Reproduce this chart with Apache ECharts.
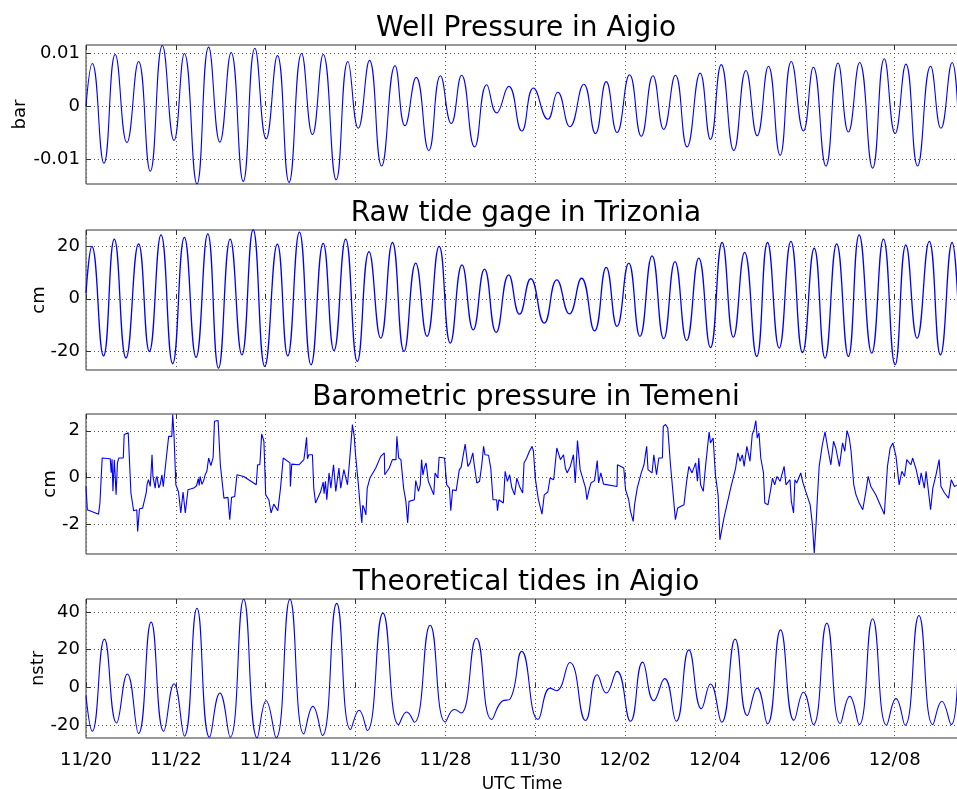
<!DOCTYPE html>
<html>
<head>
<meta charset="utf-8">
<title>Aigio / Trizonia / Temeni</title>
<script src="https://cdn.jsdelivr.net/npm/echarts@6/dist/echarts.min.js"></script>
<style>
  html, body { margin: 0; padding: 0; background: #fff; }
  #main { width: 957px; height: 789px; }
</style>
</head>
<body>
<div id="main"></div>
<script>
// time is in days since 11/20 00:00 UTC
const xTickDays = [0, 2, 4, 6, 8, 10, 12, 14, 16, 18]
const xTickLabels = ['11/20', '11/22', '11/24', '11/26', '11/28', '11/30', '12/02', '12/04', '12/06', '12/08']
const xEnd = 19.41

const titles = ['Well Pressure in Aigio', 'Raw tide gage in Trizonia', 'Barometric pressure in Temeni', 'Theoretical tides in Aigio']
const units = ['bar', 'cm', 'cm', 'nstr']

const wellTicks = [-0.01, 0, 0.01]
const gageTicks = [-20, 0, 20]
const baroTicks = [-2, 0, 2]
const theoTicks = [-20, 0, 20, 40]

// well pressure (bar), turning points
const wellPressure = [
  [0, 0], [0.14, 0.0080], [0.40, -0.0108], [0.65, 0.0097], [0.91, -0.0069], [1.17, 0.0084], [1.43, -0.0123], [1.70, 0.0114], [1.96, -0.0065], [2.19, 0.0099],
  [2.47, -0.0147], [2.73, 0.0111], [2.98, -0.0068], [3.23, 0.0101], [3.50, -0.0142], [3.76, 0.0109], [4.01, -0.0062], [4.26, 0.0095], [4.52, -0.0144], [4.80, 0.0099],
  [5.04, -0.0054], [5.28, 0.0097], [5.57, -0.0139], [5.83, 0.0084], [6.06, -0.0042], [6.31, 0.0086], [6.58, -0.0113], [6.88, 0.0076], [7.10, -0.0037], [7.35, 0.0054],
  [7.63, -0.0084], [7.89, 0.0057], [8.13, -0.0033], [8.36, 0.0058], [8.65, -0.0077], [8.92, 0.0040], [9.14, -0.0013], [9.41, 0.0037], [9.70, -0.0047], [9.96, 0.0034],
  [10.28, -0.0025], [10.50, 0.0026], [10.77, -0.0039], [11.08, 0.0041], [11.34, -0.0052], [11.58, 0.0046], [11.82, -0.0050], [12.10, 0.0059], [12.36, -0.0057], [12.62, 0.0057],
  [12.86, -0.0044], [13.12, 0.0058], [13.38, -0.0077], [13.67, 0.0062], [13.90, -0.0063], [14.14, 0.0078], [14.42, -0.0084], [14.69, 0.0067], [14.94, -0.0056], [15.19, 0.0075],
  [15.45, -0.0093], [15.70, 0.0084], [15.97, -0.0047], [16.19, 0.0073], [16.47, -0.0113], [16.74, 0.0081], [16.97, -0.0049], [17.22, 0.0082], [17.51, -0.0117], [17.77, 0.0089],
  [18.01, -0.0052], [18.25, 0.0079], [18.51, -0.0113], [18.80, 0.0075], [19.03, -0.0042], [19.28, 0.0082], [19.41, -0.0017]
]

// raw tide gage (cm)
const tideGage = [
  [0, 2.2], [0.13, 20.1], [0.39, -21.9], [0.63, 22.9], [0.89, -22.7], [1.17, 21.1], [1.41, -20.2], [1.67, 24.5], [1.93, -24.9], [2.19, 23.6],
  [2.45, -22.4], [2.71, 24.9], [2.95, -26.6], [3.21, 22.9], [3.47, -21.5], [3.72, 26.5], [3.98, -25.9], [4.26, 21.0], [4.49, -21.9], [4.75, 25.6],
  [5.01, -25.3], [5.28, 21.3], [5.52, -19.9], [5.78, 22.9], [6.04, -24.0], [6.30, 18.1], [6.56, -15.1], [6.82, 21.6], [7.08, -20.2], [7.34, 13.7],
  [7.59, -14.4], [7.86, 20.1], [8.11, -17.0], [8.37, 13.0], [8.62, -11.9], [8.87, 11.4], [9.13, -12.9], [9.41, 9.2], [9.65, -5.9], [9.90, 7.7],
  [10.20, -9.3], [10.48, 7.3], [10.76, -5.8], [11.03, 7.9], [11.32, -12.3], [11.58, 12.1], [11.82, -10.6], [12.08, 13.7], [12.33, -14.4], [12.60, 16.5],
  [12.86, -15.3], [13.11, 14.3], [13.37, -16.0], [13.64, 15.6], [13.90, -18.7], [14.16, 21.6], [14.41, -14.7], [14.66, 17.8], [14.93, -22.1], [15.17, 21.6],
  [15.43, -18.9], [15.69, 22.0], [15.95, -20.6], [16.21, 19.4], [16.45, -22.7], [16.71, 21.1], [16.97, -22.1], [17.21, 24.5], [17.49, -20.8], [17.75, 22.9],
  [18.01, -25.3], [18.25, 20.7], [18.50, -15.1], [18.77, 22.0], [19.02, -21.5], [19.28, 21.6], [19.41, -2.3]
]

// barometric pressure (cm)
const baroPressure = [
  [0.00, -0.39], [0.03, -1.39], [0.28, -1.58], [0.31, -1.10], [0.36, 0.83], [0.54, 0.80], [0.56, 0.20], [0.58, 0.78], [0.60, -0.60], [0.63, 0.76], [0.65, 0.05], [0.67, -0.75], [0.70, 0.62],
  [0.73, 0.83], [0.83, 0.83], [0.85, 1.84], [0.94, 1.91], [1.00, -0.67], [1.06, -1.43], [1.13, -1.39], [1.15, -2.32], [1.19, -1.35], [1.26, -1.32],
  [1.34, -0.67], [1.36, -0.30], [1.39, -0.10], [1.43, -0.39], [1.47, 0.97], [1.49, 0.04], [1.54, -0.46], [1.56, -0.05], [1.58, 0.04], [1.62, -0.45], [1.65, -0.32], [1.69, 0.11], [1.72, -0.40], [1.74, -0.32],
  [1.78, 0.69], [1.84, 1.76], [1.91, 1.76], [1.93, 2.70], [1.96, 1.76], [2.00, -0.32], [2.06, -0.63], [2.11, -1.53], [2.16, -0.63], [2.21, -1.53],
  [2.27, -0.53], [2.40, -0.46], [2.46, -0.36], [2.50, -0.05], [2.52, -0.35], [2.54, 0.04], [2.58, -0.30], [2.62, -0.14], [2.65, 0.10], [2.69, 0.26], [2.73, 0.83], [2.78, 0.50], [2.83, 0.86], [2.86, 2.41], [2.94, 2.44],
  [2.99, 0.54], [3.07, -0.89], [3.16, -0.86], [3.20, -1.82], [3.24, -0.86], [3.31, -0.82], [3.36, 0.11], [3.51, 0.04], [3.79, -0.32], [3.82, 0.54],
  [3.87, 0.54], [3.91, 1.86], [3.96, 1.55], [4.00, -0.75], [4.07, -0.96], [4.12, -1.53], [4.18, -1.15], [4.27, -1.43], [4.33, -0.46], [4.39, 0.83],
  [4.54, 0.62], [4.55, -0.39], [4.58, 0.57], [4.74, 0.54], [4.85, 0.76], [4.88, 1.20], [4.91, 1.72], [4.93, 0.80], [4.96, 0.97], [5.04, 0.97], [5.07, -0.46], [5.11, -1.10],
  [5.22, -0.63], [5.28, -0.20], [5.30, -0.70], [5.33, -0.17], [5.36, -0.96], [5.41, 0.19], [5.45, -0.46], [5.51, 0.54], [5.56, -0.60], [5.63, 0.40], [5.67, -0.46], [5.74, 0.33],
  [5.82, -0.32], [5.86, 0.54], [5.89, 1.26], [5.93, 2.27], [5.97, 1.76], [6.00, 0.97], [6.06, -0.24], [6.10, -1.18], [6.14, -1.96], [6.16, -1.20], [6.19, -1.32],
  [6.23, -1.61], [6.26, -0.46], [6.32, -0.03], [6.45, 0.40], [6.56, 0.90], [6.64, 1.05], [6.65, 0.11], [6.75, 0.40], [6.82, 0.76], [6.90, 0.76],
  [6.92, 1.76], [6.96, 0.83], [7.01, 0.76], [7.07, -0.46], [7.12, -1.03], [7.16, -1.96], [7.19, -1.03], [7.31, -0.96], [7.34, -0.14], [7.40, -0.60], [7.44, -0.32],
  [7.47, 0.76], [7.50, 0.10], [7.53, 0.40], [7.57, 0.62], [7.62, -0.17], [7.68, -0.46], [7.74, -0.75], [7.77, 0.19], [7.83, -0.03], [7.86, 0.86], [7.98, 0.83],
  [8.03, -0.32], [8.09, -0.46], [8.12, -1.43], [8.16, -0.53], [8.24, -0.57], [8.31, 0.33], [8.35, 0.43], [8.44, 1.43], [8.50, 0.47], [8.55, 0.62],
  [8.61, 1.05], [8.64, 0.57], [8.70, -0.24], [8.76, -0.17], [8.81, 0.54], [8.85, 1.33], [8.88, 0.97], [8.96, 0.95], [9.01, 0.40], [9.06, -0.96],
  [9.14, -0.96], [9.16, -1.43], [9.19, -0.96], [9.29, -1.10], [9.33, 0.26], [9.38, -0.17], [9.43, 0.11], [9.48, -0.46], [9.54, -0.75], [9.59, -0.03],
  [9.65, -0.39], [9.72, -0.67], [9.75, 0.62], [9.81, 0.83], [9.87, 1.12], [9.93, 1.33], [9.96, 1.12], [10.00, -0.03], [10.07, -0.96], [10.15, -1.58],
  [10.20, -0.75], [10.28, -0.63], [10.33, -0.03], [10.41, -0.10], [10.48, 1.26], [10.56, 0.76], [10.63, 0.97], [10.67, 0.40], [10.71, 0.19], [10.78, 0.47], [10.85, 0.97],
  [10.89, -0.24], [10.94, 1.58], [11.00, 0.33], [11.12, -0.46], [11.15, -0.96], [11.19, -0.60], [11.24, -0.24], [11.32, -0.14], [11.38, 0.72], [11.41, -0.24],
  [11.46, 0.19], [11.52, -0.29], [11.82, -0.39], [11.83, 0.54], [11.97, 0.40], [12.01, -0.53], [12.08, -0.96], [12.12, -1.46], [12.18, -1.89], [12.21, -1.18],
  [12.27, -0.46], [12.36, 0.19], [12.42, 0.54], [12.48, 1.33], [12.51, 0.33], [12.60, 0.19], [12.64, 0.97], [12.70, 0.11], [12.75, 0.83], [12.83, 0.83],
  [12.85, 2.19], [12.90, 2.27], [12.95, 2.12], [13.01, 0.54], [13.09, -1.18], [13.12, -1.82], [13.17, -1.32], [13.31, -1.18], [13.37, -0.17], [13.42, 0.47],
  [13.49, 0.19], [13.57, 0.62], [13.61, -0.17], [13.64, 0.83], [13.68, -0.32], [13.74, -0.60], [13.79, 0.47], [13.87, 1.95], [13.90, 1.48], [13.96, 1.69],
  [14.01, 0.11], [14.07, -0.75], [14.11, -2.68], [14.20, -1.75], [14.35, -0.46], [14.46, 0.40], [14.51, 1.05], [14.56, 0.69], [14.61, 0.97], [14.65, 0.47],
  [14.71, 1.33], [14.78, 0.69], [14.83, 1.84], [14.87, 2.05], [14.91, 2.44], [14.94, 1.69], [14.98, 1.91], [15.02, 0.83], [15.08, 0.19], [15.11, -1.10],
  [15.18, -1.18], [15.24, -0.53], [15.28, -0.03], [15.33, -0.32], [15.38, 0.04], [15.45, -0.17], [15.54, 0.47], [15.58, -0.32], [15.67, -0.10], [15.70, -1.03],
  [15.75, -1.53], [15.78, -0.10], [15.82, -0.24], [15.91, 0.19], [15.95, -0.17], [16.02, -0.60], [16.12, -1.18], [16.17, -2.04], [16.21, -3.25], [16.25, -2.04],
  [16.28, -0.89], [16.32, 0.47], [16.39, 1.40], [16.45, 1.95], [16.51, 1.26], [16.58, 0.54], [16.64, 1.55], [16.69, 1.26], [16.77, 0.47], [16.84, 1.48],
  [16.89, 1.12], [16.94, 2.01], [16.99, 1.69], [17.03, 1.12], [17.09, -0.32], [17.14, -0.75], [17.21, -1.10], [17.29, -1.39], [17.36, -0.60], [17.41, 0.04],
  [17.47, -0.39], [17.58, -0.75], [17.66, -1.10], [17.77, -1.58], [17.84, 0.47], [17.90, 1.26], [17.96, 1.48], [18.03, 0.90], [18.10, -0.32], [18.16, 0.26],
  [18.22, 0.04], [18.27, 0.76], [18.36, 0.54], [18.40, 0.83], [18.48, 0.33], [18.55, -0.32], [18.59, 0.19], [18.66, -0.46], [18.70, 0.26], [18.80, -1.39],
  [18.85, -0.46], [18.92, 0.11], [18.99, 0.76], [19.03, -0.39], [19.11, -0.67], [19.20, -0.89], [19.26, -0.10], [19.33, -0.39], [19.41, -0.32]
]

// theoretical tides (nstr)
const theoTides = [
  [0, -4.4], [0.14, -23.3], [0.41, 25.6], [0.68, -18.9], [0.92, 7.1], [1.17, -24.5], [1.45, 34.6], [1.73, -23.3], [1.96, 1.9], [2.19, -25.9],
  [2.47, 42.0], [2.75, -26.5], [2.98, -3.0], [3.21, -26.5], [3.51, 46.8], [3.81, -26.8], [4.01, -7.1], [4.23, -26.8], [4.54, 46.8], [4.85, -24.7],
  [5.05, -10.1], [5.26, -25.6], [5.58, 44.6], [5.89, -22.4], [6.08, -12.2], [6.26, -22.9], [6.61, 39.4], [6.96, -19.8], [7.14, -13.1], [7.31, -18.5],
  [7.66, 33.0], [8.00, -18.4], [8.20, -11.8], [8.35, -13.6], [8.69, 26.1], [9.03, -17.1], [9.26, -7.4], [9.44, -6.2], [9.70, 19.1], [10.06, -17.1],
  [10.33, -0.4], [10.47, -1.8], [10.77, 13.2], [11.12, -17.6], [11.38, 6.7], [11.58, -3.0], [11.82, 8.5], [12.12, -18.0], [12.39, 13.4], [12.64, -7.1],
  [12.88, 4.6], [13.14, -18.0], [13.42, 19.9], [13.70, -11.3], [13.90, 1.8], [14.15, -18.5], [14.45, 25.6], [14.72, -15.0], [14.94, -0.4], [15.17, -19.4],
  [15.46, 30.5], [15.76, -17.5], [15.97, -2.6], [16.19, -19.8], [16.49, 34.1], [16.79, -19.2], [17.00, -4.8], [17.21, -19.8], [17.51, 36.4], [17.82, -20.1],
  [18.03, -6.0], [18.23, -20.1], [18.54, 38.1], [18.85, -19.8], [19.05, -7.4], [19.26, -19.8], [19.41, 9.9]
]

const panels = [
  { data: wellPressure, ticks: wellTicks, min: -0.0147, max: 0.0115, top: 45, height: 139, smooth: 0.5, nameGap: 57, width: 1.1 },
  { data: tideGage, ticks: gageTicks, min: -27.3, max: 26.4, top: 230, height: 140, smooth: 0.5, nameGap: 38, width: 1.3 },
  { data: baroPressure, ticks: baroTicks, min: -3.29, max: 2.72, top: 414, height: 140, smooth: false, nameGap: 27, width: 1.1 },
  { data: theoTides, ticks: theoTicks, min: -26.9, max: 46.9, top: 599, height: 139, smooth: 0.5, nameGap: 39, width: 1.1 }
]

const FONT = 'DejaVu Sans'
const chart = echarts.init(document.getElementById('main'))

const grid = []
const xAxis = []
const yAxis = []
const series = []
const title = []

panels.forEach((p, i) => {
  const last = i === panels.length - 1
  grid.push({
    left: 86, right: -1, top: p.top, height: p.height,
    outerBoundsMode: 'none',
    show: true, borderColor: '#333', borderWidth: 1, backgroundColor: '#fff'
  })
  title.push({
    text: titles[i], left: 521, top: p.top - 35, textAlign: 'center',
    textStyle: { fontFamily: FONT, fontSize: 28, fontWeight: 'normal', color: '#000' }
  })
  // bottom x axis with grid lines
  xAxis.push({
    type: 'value', gridIndex: i, min: 0, max: xEnd, position: 'bottom',
    axisLine: { show: false },
    axisTick: { show: true, inside: true, length: 5, customValues: xTickDays, lineStyle: { color: '#333' } },
    axisLabel: {
      show: last, customValues: xTickDays, margin: 13,
      fontFamily: FONT, fontSize: 18, color: '#000',
      formatter: v => xTickLabels[xTickDays.indexOf(v)] || ''
    },
    splitLine: { show: true, lineStyle: { color: '#555', type: [1, 3], width: 1 } },
    name: last ? 'UTC Time' : '', nameLocation: 'middle', nameGap: 38, nameMoveOverlap: false,
    nameTextStyle: { fontFamily: FONT, fontSize: 17, color: '#000' }
  })
  // top ticks only
  xAxis.push({
    type: 'value', gridIndex: i, min: 0, max: xEnd, position: 'top',
    axisLine: { show: false },
    axisTick: { show: true, inside: true, length: 5, customValues: xTickDays, lineStyle: { color: '#333' } },
    axisLabel: { show: false },
    splitLine: { show: false }
  })
  yAxis.push({
    type: 'value', gridIndex: i, min: p.min, max: p.max,
    axisLine: { show: false },
    axisTick: { show: true, inside: true, length: 5, customValues: p.ticks, lineStyle: { color: '#333' } },
    axisLabel: {
      customValues: p.ticks, margin: 6, fontFamily: FONT, fontSize: 18, color: '#000',
      formatter: v => String(v)
    },
    splitLine: { show: true, lineStyle: { color: '#555', type: [1, 3], width: 1 } },
    name: units[i], nameLocation: 'middle', nameRotate: 90, nameGap: p.nameGap, nameMoveOverlap: false,
    nameTextStyle: { fontFamily: FONT, fontSize: 18, color: '#000' }
  })
  series.push({
    type: 'line', xAxisIndex: 2 * i, yAxisIndex: i,
    data: p.data, showSymbol: false, smooth: p.smooth,
    lineStyle: { color: '#0000ff', width: p.width },
    silent: true
  })
})

chart.setOption({
  animation: false,
  backgroundColor: '#fff',
  title: title,
  grid: grid,
  xAxis: xAxis,
  yAxis: yAxis,
  series: series
})
</script>
</body>
</html>
